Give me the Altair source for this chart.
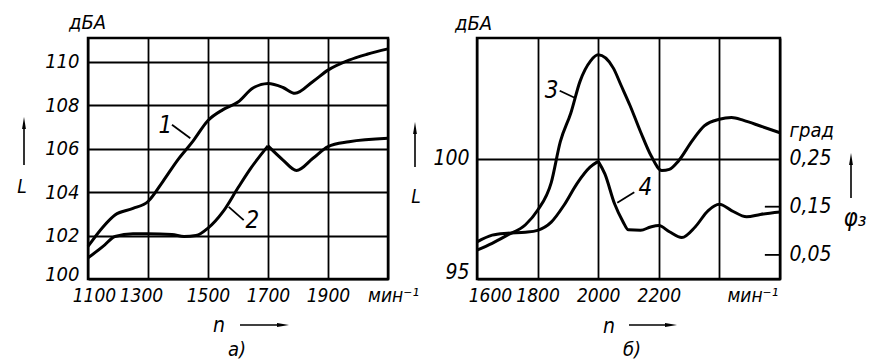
import altair as alt
import pandas as pd

FONT = "Liberation Sans Narrow, DejaVu Sans Condensed, sans-serif"

# ---------------- panel а) ----------------
a_x_ticks = [1100, 1300, 1500, 1700, 1900, 2100]
a_y_ticks = [100, 102, 104, 106, 108, 110]
a_n1 = [1100, 1150, 1190, 1250, 1300, 1350, 1400, 1450, 1500, 1550, 1600,
        1650, 1700, 1750, 1790, 1850, 1900, 1970, 2030, 2100]
a_L1 = [101.5, 102.4, 102.95, 103.25, 103.57, 104.5, 105.5, 106.35, 107.3,
        107.8, 108.15, 108.8, 109.0, 108.82, 108.55, 109.1, 109.62, 110.08,
        110.35, 110.6]
a_n2 = [1100, 1150, 1190, 1250, 1300, 1380, 1420, 1460, 1500, 1550, 1600,
        1640, 1700, 1750, 1795, 1850, 1900, 1970, 2100]
a_L2 = [100.97, 101.5, 101.96, 102.08, 102.08, 102.05, 101.96, 102.0, 102.34,
        103.1, 104.2, 105.05, 106.13, 105.48, 105.0, 105.56, 106.1, 106.32,
        106.48]
a_peak2 = 1700
a_lab_text = ["1", "2"]
a_lab_n = [1358, 1648]
a_lab_L = [107.05, 102.68]
a_lead_n = [1380, 1569]
a_lead_L = [107.1, 103.32]
a_lead_n2 = [1441, 1619]
a_lead_L2 = [106.48, 102.71]

# ---------------- panel б) ----------------
b_x_ticks = [1600, 1800, 2000, 2200, 2400, 2600]
b_y_ticks = [95, 100]
b_phi_ticks = [0.05, 0.15, 0.25]
b_phi_marks = [0.05, 0.15]
b_n3 = [1600, 1650, 1700, 1760, 1800, 1845, 1875, 1910, 1940, 1975, 2000,
        2050, 2075, 2105, 2140, 2175, 2210, 2235, 2265, 2310, 2350, 2400,
        2440, 2480, 2535, 2600]
b_L3 = [96.2, 96.48, 96.82, 97.25, 97.85, 99.0, 100.7, 101.9, 103.2, 104.05,
        104.3, 103.75, 103.05, 102.2, 101.1, 100.1, 99.5, 99.55, 99.9, 100.73,
        101.35, 101.63, 101.7, 101.58, 101.35, 101.07]
b_n4 = [1600, 1650, 1700, 1760, 1800, 1845, 1887, 1930, 1973, 2000, 2022,
        2054, 2081, 2100, 2140, 2173, 2200, 2235, 2276, 2320, 2363, 2400,
        2440, 2490, 2535, 2600]
b_phi4 = [0.077, 0.091, 0.095, 0.097, 0.101, 0.118, 0.153, 0.198, 0.232,
          0.244, 0.218, 0.156, 0.12, 0.102, 0.101, 0.108, 0.111, 0.098, 0.086,
          0.108, 0.142, 0.155, 0.142, 0.129, 0.134, 0.139]
b_peak4 = 2000
b_lab3 = {"t": ["3"], "n": [1846], "v": [102.82]}
b_lead3 = {"n": [1873], "v": [102.81], "n2": [1924], "v2": [102.51]}
b_lab4 = {"t": ["4"], "n": [2156], "v": [0.189]}
b_lead4 = {"n": [2119], "v": [0.180], "n2": [2063], "v2": [0.158]}


def split_at(ns, vs, peak):
    rows = []
    for n, v in zip(ns, vs):
        if n <= peak:
            rows.append({"n": n, "v": v, "seg": 0})
        if n >= peak:
            rows.append({"n": n, "v": v, "seg": 1})
    return pd.DataFrame(rows)


dummy = pd.DataFrame({"a": [0]})


def txt(s, x, y, size, align="center", baseline="middle"):
    return alt.Chart(dummy).mark_text(
        text=s, font=FONT, fontSize=size, fontStyle="italic", align=align,
        baseline=baseline, color="black"
    ).encode(x=alt.value(x), y=alt.value(y))


def arrow_up(x, y_tip, y_end):
    line = alt.Chart(dummy).mark_rule(color="black", strokeWidth=1.6).encode(
        x=alt.value(x), y=alt.value(y_tip + 6), y2=alt.value(y_end))
    head = alt.Chart(dummy).mark_point(
        shape="M0,-1L0.32,1L-0.32,1Z", filled=True, size=144, color="black",
        opacity=1, strokeWidth=0).encode(x=alt.value(x), y=alt.value(y_tip + 6))
    return [line, head]


def arrow_right(x0, x_tip, y):
    line = alt.Chart(dummy).mark_rule(color="black", strokeWidth=1.6).encode(
        x=alt.value(x0), x2=alt.value(x_tip - 6), y=alt.value(y))
    head = alt.Chart(dummy).mark_point(
        shape="M1,0L-1,-0.32L-1,0.32Z", filled=True, size=144, color="black",
        opacity=1, strokeWidth=0).encode(x=alt.value(x_tip - 6), y=alt.value(y))
    return [line, head]


LINE = dict(color="black", strokeWidth=3, interpolate="monotone")

# ---------- left panel ----------
xa = alt.X("n:Q", scale=alt.Scale(domain=[1100, 2100], nice=False, zero=False),
           axis=alt.Axis(values=a_x_ticks, format="d", title=None, grid=True,
                         labelFontSize=19, labelPadding=7, labelOverlap=False,
                         labelFlush=False,
                         labelExpr="datum.value == 2100 ? 'мин⁻¹' : datum.label",
                         labelOffset={"condition": [
                             {"test": "datum.value == 1100", "value": 6},
                             {"test": "datum.value == 1300", "value": -7},
                             {"test": "datum.value == 2100", "value": 5}],
                             "value": 0}))
ya = alt.Y("v:Q", scale=alt.Scale(domain=[100, 111.1], nice=False, zero=False),
           axis=alt.Axis(values=a_y_ticks, title="дБА", titleAngle=0, titleX=-1,
                         titleY=-16, titleAlign="center", titleBaseline="middle",
                         titleFontSize=20, grid=True, labelFontSize=20,
                         labelPadding=9, labelOverlap=False, labelFlush=False,
                         labelOffset={"condition": {"test": "datum.value == 100",
                                                    "value": -5}, "value": 0}))

df1 = pd.DataFrame({"n": a_n1, "v": a_L1})
df2 = split_at(a_n2, a_L2, a_peak2)
dlab_a = pd.DataFrame({"t": a_lab_text, "n": a_lab_n, "v": a_lab_L})
dlead_a = pd.DataFrame({"n": a_lead_n, "v": a_lead_L, "n2": a_lead_n2, "v2": a_lead_L2})

left_layers = [
    alt.Chart(df1).mark_line(**LINE).encode(x=xa, y=ya),
    alt.Chart(df2).mark_line(**LINE).encode(x=xa, y=ya, detail="seg:N"),
    alt.Chart(dlead_a).mark_rule(color="black", strokeWidth=1.8).encode(
        x=xa, y=ya, x2="n2:Q", y2="v2:Q"),
    alt.Chart(dlab_a).mark_text(font=FONT, fontSize=24, fontStyle="italic",
                                color="black").encode(x=xa, y=ya, text="t:N"),
    txt("L", -66, 149, 19),
    *arrow_up(-64, 79, 127),
    txt("L", 328, 159, 19),
    *arrow_up(327, 84, 129),
    txt("n", 131, 288, 21),
    *arrow_right(152, 201, 287),
    txt("а)", 149, 312, 20),
]
left = alt.layer(*left_layers).properties(width=300, height=241)

# ---------- right panel ----------
xb = alt.X("n:Q", scale=alt.Scale(domain=[1600, 2600], nice=False, zero=False),
           axis=alt.Axis(values=b_x_ticks, format="d", title=None, grid=True,
                         labelFontSize=19, labelPadding=7, labelOverlap=False,
                         labelFlush=False,
                         labelExpr="datum.value == 2400 ? 'мин⁻¹' : (datum.value == 2600 ? '' : datum.label)",
                         labelOffset={"condition": [
                             {"test": "datum.value == 1600", "value": 13},
                             {"test": "datum.value == 2400", "value": 33}],
                             "value": 0}))
yb = alt.Y("v:Q", scale=alt.Scale(domain=[95, 105], nice=False, zero=False),
           axis=alt.Axis(values=b_y_ticks, orient="left", title="дБА", titleAngle=0,
                         titleX=-4, titleY=-15, titleAlign="center",
                         titleBaseline="middle", titleFontSize=20, grid=True,
                         labelFontSize=21, labelPadding=8, labelOverlap=False,
                         labelFlush=False,
                         labelOffset={"condition": {"test": "datum.value == 95",
                                                    "value": -7}, "value": 0}))
yphi = alt.Y("v:Q", scale=alt.Scale(domain=[0, 0.5], nice=False, zero=False),
             axis=alt.Axis(values=b_phi_ticks, orient="right", title="град",
                           titleAngle=0, titleX=9, titleY=92, titleAlign="left",
                           titleBaseline="middle", titleFontSize=20, grid=False,
                           labelFontSize=21, labelPadding=9, labelOverlap=False,
                           labelFlush=False,
                           labelExpr="replace(format(datum.value, '.2f'), '.', ',')"))

df3 = pd.DataFrame({"n": b_n3, "v": b_L3})
df4 = split_at(b_n4, b_phi4, b_peak4)
dticks = pd.DataFrame({"n": [2550] * len(b_phi_marks), "n2": [2600] * len(b_phi_marks),
                       "v": b_phi_marks})

group_L = alt.layer(
    alt.Chart(df3).mark_line(**LINE).encode(x=xb, y=yb),
    alt.Chart(pd.DataFrame(b_lead3)).mark_rule(color="black", strokeWidth=1.8).encode(
        x=xb, y=yb, x2="n2:Q", y2="v2:Q"),
    alt.Chart(pd.DataFrame(b_lab3)).mark_text(font=FONT, fontSize=24, fontStyle="italic",
                                              color="black").encode(x=xb, y=yb, text="t:N"),
)
group_phi = alt.layer(
    alt.Chart(df4).mark_line(**LINE).encode(x=xb, y=yphi, detail="seg:N"),
    alt.Chart(dticks).mark_rule(color="black", strokeWidth=1.8).encode(
        x=xb, x2="n2:Q", y=yphi),
    alt.Chart(pd.DataFrame(b_lead4)).mark_rule(color="black", strokeWidth=1.8).encode(
        x=xb, y=yphi, x2="n2:Q", y2="v2:Q"),
    alt.Chart(pd.DataFrame(b_lab4)).mark_text(font=FONT, fontSize=24, fontStyle="italic",
                                              color="black").encode(x=xb, y=yphi, text="t:N"),
)
right = alt.layer(
    group_L, group_phi,
    *arrow_up(374, 115, 160),
    txt("φ₃", 378, 181, 24),
    txt("n", 132, 289, 21),
    *arrow_right(152, 200, 287),
    txt("б)", 155, 312, 20),
).resolve_scale(y="independent").properties(width=303, height=241)

chart = alt.hconcat(left, right, spacing=8).properties(
    padding={"left": 7, "top": 2, "right": 0, "bottom": 0},
    background="white",
).configure_axis(
    labelFont=FONT, labelFontStyle="italic", labelColor="black",
    titleFont=FONT, titleFontStyle="italic", titleFontWeight="normal",
    titleColor="black", gridColor="black", gridOpacity=1, gridWidth=1.8,
    domain=False, ticks=False
).configure_view(stroke="black", strokeWidth=2.5)

chart.save("out.html", embed_options={"renderer": "svg", "actions": False})
